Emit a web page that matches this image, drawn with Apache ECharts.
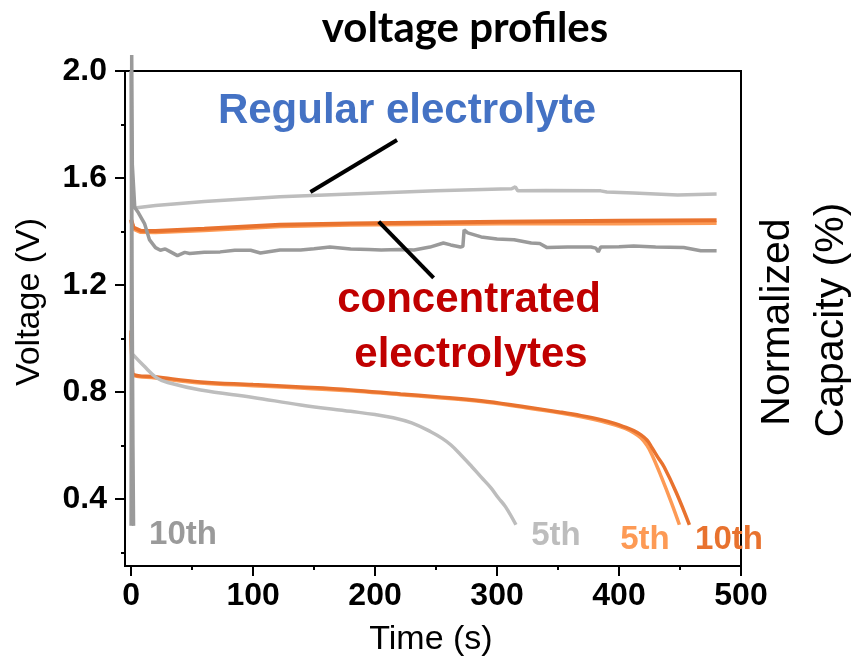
<!DOCTYPE html>
<html>
<head>
<meta charset="utf-8">
<script src="https://cdn.jsdelivr.net/npm/echarts@6/dist/echarts.min.js"></script>
<style>
  html, body { margin: 0; padding: 0; background: #fff; }
  #chart { width: 859px; height: 669px; }
</style>
</head>
<body>
<div id="chart"></div>
<script>
// Time (s) / voltage (V) pairs for each cycle
const reg10Charge = [[0,0.30],[0.5,2.06],[1,1.65],[3,1.49],[6,1.47],[11,1.43],[15,1.37],[20,1.34],[24,1.33],[28,1.335],[32,1.325],[38,1.31],[44,1.322],[48,1.318],[60,1.323],[73,1.324],[85,1.33],[98,1.33],[106,1.32],[122,1.331],[139,1.331],[150,1.336],[163,1.342],[180,1.335],[195,1.333],[205,1.331],[220,1.333],[232,1.331],[245,1.342],[256,1.357],[262,1.35],[270,1.342],[272,1.345],[273,1.406],[276,1.395],[287,1.38],[300,1.372],[314,1.369],[328,1.357],[335,1.355],[341,1.34],[358,1.342],[377,1.342],[381,1.338],[383,1.324],[385,1.342],[400,1.343],[412,1.346],[430,1.342],[453,1.34],[467,1.328],[480,1.328]];
const reg10Discharge = [[0,2.0],[0.8,1.2],[1.5,0.6],[2,0.30]];
const reg5Charge = [[0,1.50],[3,1.488],[20,1.497],[60,1.512],[122,1.53],[180,1.54],[250,1.552],[303,1.559],[312,1.56],[315,1.567],[317,1.552],[340,1.553],[385,1.552],[390,1.548],[412,1.544],[448,1.537],[480,1.54]];
const reg5Discharge = [[1.6,0.94],[10,0.9],[21,0.853],[30,0.836],[57,0.808],[100,0.78],[139,0.752],[180,0.728],[200,0.716],[215,0.704],[230,0.685],[246,0.651],[255,0.627],[262,0.603],[270,0.567],[279,0.523],[287,0.482],[295,0.442],[301,0.405],[307,0.371],[315.5,0.304]];
const conc5Charge = [[0,1.44],[2,1.41],[8,1.398],[20,1.397],[60,1.405],[122,1.42],[180,1.425],[250,1.428],[303,1.43],[400,1.43],[480,1.432]];
const conc10Charge = [[0,1.445],[2,1.415],[8,1.403],[20,1.402],[60,1.41],[122,1.425],[180,1.43],[250,1.434],[303,1.437],[400,1.44],[480,1.442]];
const conc5Discharge = [[0,1.02],[1,0.88],[2,0.862],[20,0.853],[57,0.834],[100,0.824],[139,0.815],[180,0.805],[221,0.79],[250,0.78],[287,0.765],[320,0.744],[352,0.722],[369,0.708],[385,0.692],[397,0.677],[405,0.664],[412,0.648],[418,0.628],[423,0.600],[427,0.566],[434.7,0.483],[443,0.386],[449.5,0.304]];
const conc10Discharge = [[0,1.03],[1,0.89],[2,0.866],[20,0.857],[57,0.838],[100,0.828],[139,0.819],[180,0.808],[221,0.793],[250,0.783],[287,0.768],[320,0.747],[352,0.725],[369,0.712],[385,0.697],[397,0.682],[405,0.669],[412,0.656],[418,0.64],[423,0.62],[427,0.592],[432,0.555],[437,0.52],[447,0.424],[457.7,0.304]];

// Axis ticks
const xMajor = [0, 100, 200, 300, 400, 500];
const xMinor = [50, 150, 250, 350, 450];
const yMajor = [0.4, 0.8, 1.2, 1.6, 2.0];
const yMinor = [0.2, 0.6, 1.0, 1.4, 1.8];

const DARK_GREY = '#9a9a9a';
const LIGHT_GREY = '#bdbdbd';
const LIGHT_ORANGE = '#fd9a55';
const DARK_ORANGE = '#e8722e';
const ARIAL = '"Liberation Sans", Arial, sans-serif';

const chart = echarts.init(document.getElementById('chart'), null, { renderer: 'canvas' });

function line(data, color, width, extra) {
  return Object.assign({
    type: 'line', data, symbol: 'none', smooth: false,
    lineStyle: { color, width }, silent: true
  }, extra || {});
}
const SMOOTH = { smooth: 0.4 };

const X_MIN = -5, X_MAX = 500, Y_MIN = 0.15, Y_MAX = 2.0;

const option = {
  animation: false,
  backgroundColor: '#fff',
  grid: {
    left: 125, right: 118, top: 71, bottom: 103,
    show: true, borderColor: '#000', borderWidth: 2, backgroundColor: 'transparent'
  },
  xAxis: [{
    type: 'value', min: X_MIN, max: X_MAX,
    splitLine: { show: false },
    axisLine: { onZero: false, lineStyle: { color: '#000', width: 2 } },
    axisTick: { customValues: xMajor, length: 10, lineStyle: { color: '#000', width: 2 } },
    axisLabel: { customValues: xMajor, margin: 14, color: '#000', fontSize: 32, fontWeight: 'bold', fontFamily: ARIAL }
  }, {
    type: 'value', min: X_MIN, max: X_MAX, position: 'bottom',
    splitLine: { show: false },
    axisLine: { show: false, onZero: false },
    axisTick: { customValues: xMinor, length: 4, lineStyle: { color: '#000', width: 2 } },
    axisLabel: { show: false }
  }],
  yAxis: [{
    type: 'value', min: Y_MIN, max: Y_MAX,
    splitLine: { show: false },
    axisLine: { show: true, onZero: false, lineStyle: { color: '#000', width: 2 } },
    axisTick: { show: true, customValues: yMajor, length: 10, lineStyle: { color: '#000', width: 2 } },
    axisLabel: {
      customValues: yMajor, margin: 18, color: '#000', fontSize: 32, fontWeight: 'bold', fontFamily: ARIAL,
      formatter: v => v.toFixed(1)
    }
  }, {
    type: 'value', min: Y_MIN, max: Y_MAX, position: 'left',
    splitLine: { show: false },
    axisLine: { show: false, onZero: false },
    axisTick: { show: true, customValues: yMinor, length: 4, lineStyle: { color: '#000', width: 2 } },
    axisLabel: { show: false }
  }],
  series: [
    line(conc5Charge, LIGHT_ORANGE, 4),
    line(conc10Charge, DARK_ORANGE, 4),
    line(conc5Discharge, LIGHT_ORANGE, 3.5, SMOOTH),
    line(conc10Discharge, DARK_ORANGE, 3.5, SMOOTH),
    line(reg5Charge, LIGHT_GREY, 3.5, {
      markLine: {
        silent: true, symbol: ['none', 'none'], label: { show: false },
        lineStyle: { color: '#000', width: 4, type: 'solid' },
        data: [
          [{ coord: [147, 1.548] }, { coord: [218, 1.742] }],
          [{ coord: [203, 1.437] }, { coord: [248, 1.227] }]
        ]
      }
    }),
    line(reg5Discharge, LIGHT_GREY, 3.5, SMOOTH),
    line(reg10Charge, DARK_GREY, 3.5, { clip: false }),
    line(reg10Discharge, DARK_GREY, 3.5, { clip: false })
  ],
  graphic: [
    { type: 'text', x: 465, y: 28, style: { text: 'voltage profiles', fill: '#000', font: 'bold 42px Lato, "Open Sans", sans-serif', textAlign: 'center', textVerticalAlign: 'middle' } },
    { type: 'text', x: 407, y: 111, style: { text: 'Regular electrolyte', fill: '#4472c4', font: 'bold 42px ' + ARIAL, textAlign: 'center', textVerticalAlign: 'middle' } },
    { type: 'text', x: 469, y: 300, style: { text: 'concentrated', fill: '#c00000', font: 'bold 42px ' + ARIAL, textAlign: 'center', textVerticalAlign: 'middle' } },
    { type: 'text', x: 471, y: 355, style: { text: 'electrolytes', fill: '#c00000', font: 'bold 42px ' + ARIAL, textAlign: 'center', textVerticalAlign: 'middle' } },
    { type: 'text', x: 183, y: 535, style: { text: '10th', fill: DARK_GREY, font: 'bold 33px ' + ARIAL, textAlign: 'center', textVerticalAlign: 'middle' } },
    { type: 'text', x: 556, y: 536, style: { text: '5th', fill: LIGHT_GREY, font: 'bold 33px ' + ARIAL, textAlign: 'center', textVerticalAlign: 'middle' } },
    { type: 'text', x: 645, y: 540, style: { text: '5th', fill: LIGHT_ORANGE, font: 'bold 33px ' + ARIAL, textAlign: 'center', textVerticalAlign: 'middle' } },
    { type: 'text', x: 729, y: 540, style: { text: '10th', fill: DARK_ORANGE, font: 'bold 33px ' + ARIAL, textAlign: 'center', textVerticalAlign: 'middle' } },
    { type: 'text', x: 431, y: 640, style: { text: 'Time (s)', fill: '#000', font: '34px ' + ARIAL, textAlign: 'center', textVerticalAlign: 'middle' } },
    { type: 'text', x: 30, y: 302, rotation: Math.PI / 2, style: { text: 'Voltage (V)', fill: '#000', font: '34px ' + ARIAL, textAlign: 'center', textVerticalAlign: 'middle' } },
    { type: 'text', x: 778, y: 322, rotation: Math.PI / 2, style: { text: 'Normalized', fill: '#000', font: '41px ' + ARIAL, textAlign: 'center', textVerticalAlign: 'middle' } },
    { type: 'text', x: 832, y: 320, rotation: Math.PI / 2, style: { text: 'Capacity (%)', fill: '#000', font: '41px ' + ARIAL, textAlign: 'center', textVerticalAlign: 'middle' } }
  ]
};

chart.setOption(option);
</script>
</body>
</html>
